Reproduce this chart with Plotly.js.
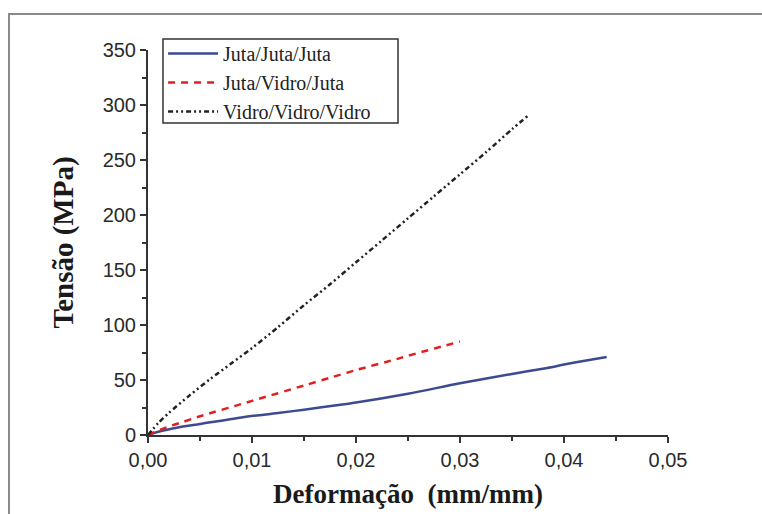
<!DOCTYPE html>
<html>
<head>
<meta charset="utf-8">
<script src="https://cdn.plot.ly/plotly-3.0.1.min.js"></script>
<style>
  html, body { margin: 0; padding: 0; background: #fff; }
  #wrap { position: relative; width: 762px; height: 514px; overflow: hidden; }
  #chart { position: absolute; left: 0; top: 0; width: 762px; height: 514px; }
  #frame { position: absolute; left: 8px; top: 13px; width: 800px; height: 600px;
           border-left: 2px solid #8a8a8a; border-top: 2px solid #8a8a8a; pointer-events: none; }
</style>
</head>
<body>
<div id="wrap">
  <div id="chart"></div>
  <div id="frame"></div>
</div>
<script>
// Juta/Juta/Juta
const jjjStrain = [0, 0.001, 0.003, 0.005, 0.009, 0.0125, 0.015, 0.0185, 0.02, 0.025, 0.03, 0.035, 0.0384, 0.04, 0.042, 0.0441];
const jjjStress = [0, 3, 7, 10, 16, 20, 23, 27.5, 29.5, 37.5, 47, 55.5, 61, 64, 67.5, 71];
// Juta/Vidro/Juta
const jvjStrain = [0, 0.0018, 0.0034, 0.005, 0.01, 0.015, 0.0175, 0.02, 0.0239, 0.025, 0.03];
const jvjStress = [0, 7, 12, 17, 31, 45, 52, 59, 69, 72, 85];
// Vidro/Vidro/Vidro
const vvvStrain = [0, 0.001, 0.002, 0.004, 0.006, 0.008, 0.01, 0.0125, 0.015, 0.0175, 0.02, 0.0225, 0.025, 0.0275, 0.03, 0.0325, 0.035, 0.0365];
const vvvStress = [0, 11, 20, 36, 51, 65, 79, 98, 118, 137, 157, 177, 197, 217, 237, 257, 278, 290];

const seriesNames = ['Juta/Juta/Juta', 'Juta/Vidro/Juta', 'Vidro/Vidro/Vidro'];
const xTickVals = [0, 0.01, 0.02, 0.03, 0.04, 0.05];
const yTickVals = [0, 50, 100, 150, 200, 250, 300, 350];

const traces = [
  { x: jjjStrain, y: jjjStress, name: seriesNames[0], type: 'scatter', mode: 'lines',
    line: { color: '#3d4a8f', width: 2.5, shape: 'spline', smoothing: 0.8 } },
  { x: jvjStrain, y: jvjStress, name: seriesNames[1], type: 'scatter', mode: 'lines',
    line: { color: '#e02020', width: 2.5, dash: '7px,6px', shape: 'spline', smoothing: 0.8 } },
  { x: vvvStrain, y: vvvStress, name: seriesNames[2], type: 'scatter', mode: 'lines',
    line: { color: '#222222', width: 2.5, dash: '5px,3px,2px,3px,2px,3px', shape: 'spline', smoothing: 0.8 } }
];

const axisFont = { family: 'Liberation Sans, Arial, sans-serif', size: 20, color: '#2a2a2a' };
const titleFont = { family: 'Liberation Serif, Times New Roman, serif', size: 27, color: '#1a1a1a', weight: 'bold' };

const layout = {
  width: 762, height: 514,
  margin: { l: 148, r: 94, t: 50, b: 79 },
  paper_bgcolor: '#ffffff', plot_bgcolor: '#ffffff',
  separators: ',.',
  showlegend: true,
  legend: {
    x: 0.029, y: 1.0416, xanchor: 'left', yanchor: 'top',
    bgcolor: 'rgba(0,0,0,0)', borderwidth: 0,
    font: { family: 'Liberation Serif, Times New Roman, serif', size: 20, color: '#222' },
    itemwidth: 50, tracegroupgap: 0
  },
  shapes: [
    { type: 'rect', xref: 'paper', yref: 'paper', x0: 0.0288, x1: 0.4808, y0: 0.8104, y1: 1.0286,
      line: { color: '#333333', width: 1.5 }, fillcolor: '#ffffff', layer: 'above' }
  ],
  xaxis: {
    range: [0, 0.05], tickvals: xTickVals, tickformat: '.2f',
    showgrid: false, zeroline: false, showline: true, linecolor: '#333', linewidth: 2,
    ticks: 'outside', ticklen: 6, tickwidth: 2, tickcolor: '#333',
    minor: { dtick: 0.005, ticks: 'outside', ticklen: 4, tickwidth: 2, tickcolor: '#333', showgrid: false },
    tickfont: axisFont,
    title: { text: 'Deformação  (mm/mm)', font: titleFont, standoff: 14 }
  },
  yaxis: {
    range: [0, 350], tickvals: yTickVals,
    showgrid: false, zeroline: false, showline: true, linecolor: '#333', linewidth: 2,
    ticks: 'outside', ticklen: 6, tickwidth: 2, tickcolor: '#333',
    minor: { dtick: 25, ticks: 'outside', ticklen: 4, tickwidth: 2, tickcolor: '#333', showgrid: false },
    tickfont: axisFont,
    title: { text: 'Tensão (MPa)', font: Object.assign({}, titleFont, { size: 29 }), standoff: 20 }
  }
};

Plotly.newPlot('chart', traces, layout, { staticPlot: true, displayModeBar: false });
</script>
</body>
</html>
